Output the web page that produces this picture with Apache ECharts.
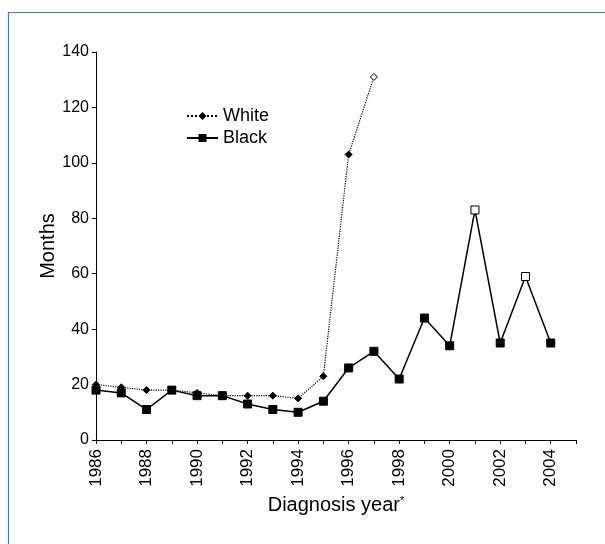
<!DOCTYPE html>
<html><head><meta charset="utf-8">
<script src="https://cdn.jsdelivr.net/npm/echarts@6/dist/echarts.min.js"></script>
<style>html,body{margin:0;padding:0;background:#fff}#c{width:605px;height:544px}</style>
</head><body><div id="c"></div>
<script>
var years = [1986,1987,1988,1989,1990,1991,1992,1993,1994,1995,1996,1997,1998,1999,2000,2001,2002,2003,2004];
var whiteVals = [20,19,18,18,17,16,16,16,15,23,103,131];
var blackVals = [18,17,11,18,16,16,13,11,10,14,26,32,22,44,34,83,35,59,35];
var whiteOpen = [1997];
var blackOpen = [2001,2003];
var yTicks = [0,20,40,60,80,100,120,140];

var FONT = 'Liberation Sans, Arial, sans-serif';
function build(vals, open) {
  return vals.map(function(v,i){
    var yr = years[i];
    var d = {value:[yr,v]};
    if (open.indexOf(yr) >= 0) d.itemStyle = {color:'#fff', borderColor:'#000', borderWidth:1};
    return d;
  });
}
var chart = echarts.init(document.getElementById('c'));
chart.setOption({
  animation:false,
  backgroundColor:'#fff',
  textStyle:{fontFamily:FONT},
  graphic:[{type:'rect', shape:{x:8.5,y:12.5,width:620,height:560}, style:{fill:null, stroke:'#2a8a9a', lineWidth:1.2}, z:-1}],
  grid:{left:96, right:29, top:52, bottom:104},
  legend:{
    orient:'vertical', left:186, top:107, padding:0, itemGap:4, itemWidth:31, itemHeight:10,
    textStyle:{fontSize:18, color:'#000', fontFamily:FONT},
    data:['White','Black']
  },
  xAxis:{
    type:'value', min:1986, max:2005, interval:1,
    name:'{a|Diagnosis year}{s|*}', nameLocation:'middle', nameGap:55,
    nameTextStyle:{rich:{a:{fontSize:20, color:'#000', fontFamily:FONT}, s:{fontSize:11, color:'#000', verticalAlign:'top', lineHeight:16, fontFamily:FONT}}},
    axisLine:{lineStyle:{color:'#000', width:1}},
    axisTick:{length:4, lineStyle:{color:'#000'}},
    splitLine:{show:false},
    axisLabel:{rotate:90, fontSize:17, color:'#000', margin:9, fontFamily:FONT,
      formatter:function(v){ return (v%2===0 && v<=2004) ? String(v) : ''; }}
  },
  yAxis:{
    type:'value', min:0, max:140, interval:20,
    name:'Months', nameLocation:'middle', nameGap:38, nameMoveOverlap:false,
    nameTextStyle:{fontSize:20, color:'#000', fontFamily:FONT},
    axisLine:{show:true, lineStyle:{color:'#000', width:1}},
    axisTick:{show:true, length:4, lineStyle:{color:'#000'}},
    splitLine:{show:false},
    axisLabel:{fontSize:16, color:'#000', margin:7, fontFamily:FONT,
      formatter:function(v){ return yTicks.indexOf(v)>=0 ? String(v) : ''; }}
  },
  series:[
    {name:'White', type:'line', data:build(whiteVals, whiteOpen),
     symbol:'diamond', symbolSize:7, showAllSymbol:true,
     lineStyle:{color:'#000', width:1.2, type:'dotted'},
     itemStyle:{color:'#000', borderColor:'#000'}, z:2},
    {name:'Black', type:'line', data:build(blackVals, blackOpen),
     symbol:'rect', symbolSize:8, showAllSymbol:true,
     lineStyle:{color:'#000', width:1.5, type:'solid'},
     itemStyle:{color:'#000', borderColor:'#000'}, z:3}
  ]
});
</script></body></html>
